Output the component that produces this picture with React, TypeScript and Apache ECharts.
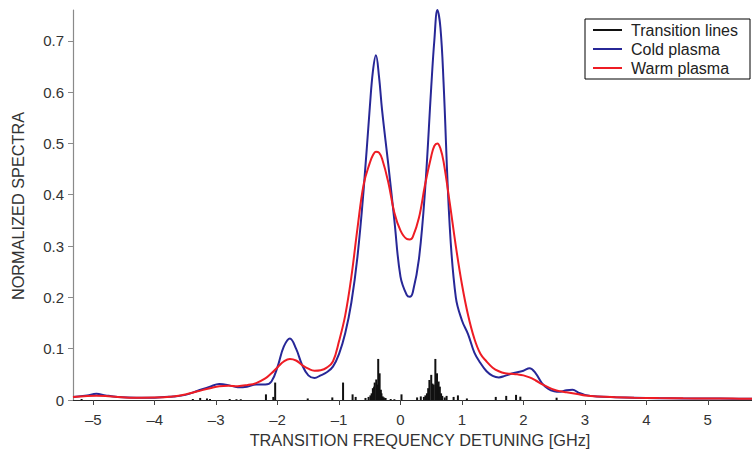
import React, { useEffect, useRef } from "react";
import * as echarts from "echarts";

const detuning = [
  -5.33, -5.1, -4.95, -4.8, -4.6, -4.3, -4.0, -3.7, -3.5, -3.3, -3.1, -2.95, -2.8, -2.65, -2.5, -2.35,
  -2.2, -2.1, -2.0, -1.9, -1.8, -1.7, -1.6, -1.5, -1.4, -1.3, -1.2, -1.1, -1.0, -0.9, -0.8, -0.7,
  -0.6, -0.5, -0.45, -0.4, -0.35, -0.3, -0.2, -0.1, 0.0, 0.1, 0.15, 0.2, 0.3, 0.4, 0.5, 0.55, 0.6,
  0.65, 0.7, 0.8, 0.9, 1.0, 1.1, 1.2, 1.3, 1.4, 1.5, 1.6, 1.7, 1.8, 1.9, 2.0, 2.1, 2.2, 2.3, 2.4,
  2.5, 2.6, 2.7, 2.8, 2.9, 3.0, 3.2, 3.5, 3.8, 4.2, 4.6, 5.0, 5.4, 5.72,
];

const coldPlasma = [
  0.006, 0.009, 0.012, 0.009, 0.006, 0.0045, 0.0045, 0.007, 0.01, 0.018, 0.026, 0.031, 0.029, 0.025,
  0.026, 0.03, 0.03, 0.036, 0.065, 0.104, 0.12, 0.1, 0.068, 0.048, 0.043, 0.048, 0.054, 0.065, 0.09,
  0.13, 0.19, 0.28, 0.41, 0.57, 0.64, 0.672, 0.63, 0.565, 0.46, 0.35, 0.24, 0.205, 0.201, 0.21,
  0.275, 0.41, 0.61, 0.7, 0.76, 0.725, 0.62, 0.34, 0.2, 0.155, 0.128, 0.093, 0.072, 0.056, 0.047,
  0.044, 0.047, 0.051, 0.054, 0.057, 0.062, 0.052, 0.033, 0.022, 0.017, 0.016, 0.019, 0.02, 0.014,
  0.01, 0.007, 0.0055, 0.0045, 0.0035, 0.003, 0.0028, 0.0026, 0.0025,
];

const warmPlasma = [
  0.006, 0.008, 0.0085, 0.008, 0.006, 0.0045, 0.0048, 0.007, 0.011, 0.017, 0.023, 0.027, 0.028, 0.027,
  0.029, 0.033, 0.042, 0.052, 0.064, 0.075, 0.08, 0.077, 0.068, 0.061, 0.057, 0.058, 0.063, 0.075,
  0.115, 0.165, 0.24, 0.335, 0.42, 0.462, 0.477, 0.484, 0.482, 0.47, 0.425, 0.365, 0.33, 0.314, 0.313,
  0.318, 0.355, 0.42, 0.475, 0.495, 0.5, 0.49, 0.465, 0.385, 0.3, 0.225, 0.165, 0.12, 0.09, 0.075,
  0.063, 0.056, 0.052, 0.051, 0.05, 0.048, 0.044, 0.038, 0.031, 0.025, 0.02, 0.017, 0.015, 0.013,
  0.011, 0.009, 0.007, 0.0055, 0.0045, 0.0037, 0.0032, 0.003, 0.0027, 0.0026,
];

const lineFreq = [
  -5.19, -3.38, -3.26, -3.15, -3.1, -2.78, -2.67, -2.6, -2.19, -2.07, -2.04, -1.51, -1.11, -0.935,
  -0.78, -0.73, -0.57, -0.52, -0.49, -0.47, -0.45, -0.43, -0.42, -0.395, -0.38, -0.363, -0.34, -0.32,
  -0.31, -0.29, -0.27, -0.243, -0.16, -0.1, 0.016, 0.27, 0.33, 0.38, 0.405, 0.43, 0.45, 0.47, 0.5,
  0.52, 0.54, 0.567, 0.594, 0.62, 0.64, 0.66, 0.68, 0.72, 0.75, 0.864, 0.934, 1.08, 1.55, 1.72, 1.88,
  1.95, 2.54,
];

const lineStrength = [
  0.002, 0.002, 0.004, 0.003, 0.002, 0.002, 0.0015, 0.0015, 0.011, 0.006, 0.034, 0.003, 0.005, 0.034,
  0.011, 0.006, 0.004, 0.006, 0.009, 0.013, 0.023, 0.026, 0.034, 0.04, 0.03, 0.08, 0.052, 0.02,
  0.013, 0.007, 0.005, 0.004, 0.002, 0.0015, 0.011, 0.005, 0.007, 0.006, 0.009, 0.013, 0.023, 0.039,
  0.049, 0.032, 0.03, 0.08, 0.052, 0.036, 0.026, 0.013, 0.008, 0.005, 0.008, 0.006, 0.009, 0.003,
  0.006, 0.008, 0.01, 0.0065, 0.0045,
];

const xTicks = [-5, -4, -3, -2, -1, 0, 1, 2, 3, 4, 5];
const yTicks = [0, 0.1, 0.2, 0.3, 0.4, 0.5, 0.6, 0.7];

const xTitle = "TRANSITION FREQUENCY DETUNING [GHz]";
const yTitle = "NORMALIZED SPECTRA";

export default function App() {
  const ref = useRef<HTMLDivElement>(null);
  useEffect(() => {
    if (!ref.current) return;
    const chart = echarts.init(ref.current, null, { renderer: "svg" });
    const font = "'Liberation Sans', Arial, Helvetica, sans-serif";
    const yAxisColor = "#8a8a8a";
    const xAxisColor = "#2a2a2a";
    const textColor = "#333333";
    chart.setOption({
      animation: false,
      backgroundColor: "#ffffff",
      textStyle: { fontFamily: font },
      grid: { left: 73, right: 0, top: 10, bottom: 57, containLabel: false },
      xAxis: {
        type: "value",
        min: -5.33,
        max: 5.72,
        axisLine: { show: true, onZero: false, lineStyle: { color: xAxisColor, width: 1.2 } },
        axisTick: { show: true, length: 5, inside: false, customValues: xTicks, lineStyle: { color: "#444444" } },
        axisLabel: {
          customValues: xTicks,
          margin: 12,
          fontSize: 15,
          color: textColor,
          fontFamily: font,
          formatter: (v: number) => (v < 0 ? "\u2013" + Math.abs(v) : String(v)),
        },
        splitLine: { show: false },
      },
      yAxis: {
        type: "value",
        min: 0,
        max: 0.76,
        axisLine: { show: true, onZero: false, lineStyle: { color: yAxisColor, width: 1.2 } },
        axisTick: { show: true, length: 5, inside: false, customValues: yTicks, lineStyle: { color: yAxisColor } },
        axisLabel: {
          customValues: yTicks,
          margin: 9,
          fontSize: 15,
          color: textColor,
          fontFamily: font,
          formatter: (v: number) => (v === 0 ? "0" : v.toFixed(1)),
        },
        splitLine: { show: false },
      },
      legend: {
        orient: "vertical",
        left: 585,
        top: 19,
        backgroundColor: "#ffffff",
        borderColor: "#000000",
        borderWidth: 1,
        borderRadius: 0,
        padding: [3, 12, 3, 8],
        itemWidth: 29,
        itemHeight: 2,
        itemGap: 3,
        icon: "rect",
        textStyle: { fontSize: 16, color: "#222222", fontFamily: font, padding: [0, 0, 0, 4] },
        data: ["Transition lines", "Cold plasma", "Warm plasma"],
      },
      graphic: [
        {
          type: "text",
          x: 420,
          y: 440,
          style: { text: xTitle, fontSize: 16.3, fill: textColor, fontFamily: font, textAlign: "center", textVerticalAlign: "middle" },
        },
        {
          type: "text",
          x: 18,
          y: 206,
          rotation: Math.PI / 2,
          style: { text: yTitle, fontSize: 16.3, fill: textColor, fontFamily: font, textAlign: "center", textVerticalAlign: "middle" },
        },
      ],
      series: [
        {
          name: "Transition lines",
          type: "bar",
          barWidth: 2,
          itemStyle: { color: "#111111" },
          data: lineFreq.map((x, i) => [x, lineStrength[i]]),
          z: 1,
        },
        {
          name: "Cold plasma",
          type: "line",
          smooth: 0.4,
          showSymbol: false,
          lineStyle: { color: "#272797", width: 2 },
          itemStyle: { color: "#272797" },
          data: detuning.map((x, i) => [x, coldPlasma[i]]),
          z: 2,
        },
        {
          name: "Warm plasma",
          type: "line",
          smooth: 0.4,
          showSymbol: false,
          lineStyle: { color: "#ee1c24", width: 2 },
          itemStyle: { color: "#ee1c24" },
          data: detuning.map((x, i) => [x, warmPlasma[i]]),
          z: 3,
        },
      ],
    });
    return () => chart.dispose();
  }, []);
  return <div ref={ref} style={{ width: 752, height: 457, position: "absolute", left: 0, top: 0 }} />;
}
